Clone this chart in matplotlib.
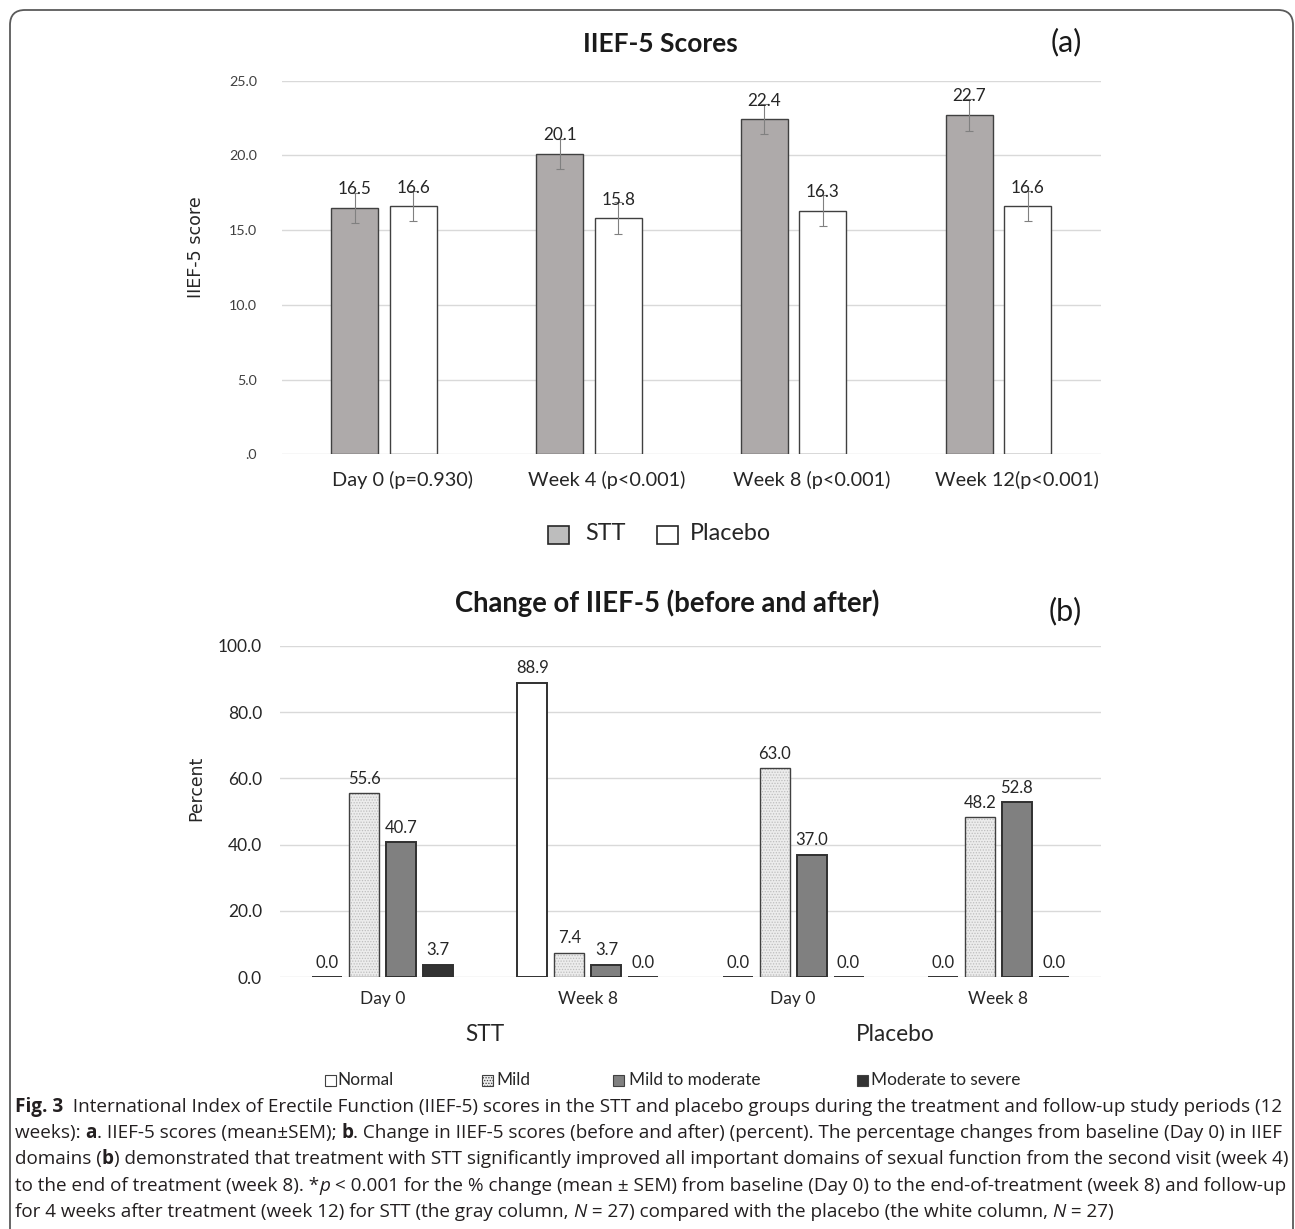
import matplotlib
matplotlib.use('Agg')
import matplotlib.pyplot as plt
import matplotlib.transforms as mtransforms
from matplotlib.patches import Rectangle, FancyBboxPatch
import numpy as np

W, H = 1295, 1229
CHART_FONT = ['Lato', 'DejaVu Sans']
CAP_FONT = ['Open Sans', 'DejaVu Sans']

# (a) IIEF-5 scores, mean and SEM
visits = ['Day 0 (p=0.930)', 'Week 4 (p<0.001)', 'Week 8 (p<0.001)', 'Week 12(p<0.001)']
stt_mean = [16.5, 20.1, 22.4, 22.7]
stt_sem = [1.0, 1.0, 1.0, 1.05]
plac_mean = [16.6, 15.8, 16.3, 16.6]
plac_sem = [1.0, 1.05, 1.05, 1.0]

# (b) severity distribution (percent)
b_ticks = ['Day 0', 'Week 8', 'Day 0', 'Week 8']
b_groups = ['STT', 'Placebo']
severity = ['Normal', 'Mild', 'Mild to moderate', 'Moderate to severe']
normal = [0.0, 88.9, 0.0, 0.0]
mild = [55.6, 7.4, 63.0, 48.2]
mild_mod = [40.7, 3.7, 37.0, 52.8]
mod_severe = [3.7, 0.0, 0.0, 0.0]

plt.rcParams['font.family'] = CHART_FONT
plt.rcParams['hatch.linewidth'] = 0.6

fig = plt.figure(figsize=(W / 100, H / 100), dpi=100)


def px(x, y):
    return x / W, 1 - y / H


def ax_at(left, top, right, bottom):
    return fig.add_axes([left / W, 1 - bottom / H, (right - left) / W, (bottom - top) / H])


def style_axis(ax):
    for s in ax.spines.values():
        s.set_visible(False)
    ax.yaxis.grid(True, color='#d9d9d9', lw=1)
    ax.set_axisbelow(True)
    ax.tick_params(length=0)


# ---------- panel (a)
ax1 = ax_at(282, 80.5, 1101, 454.5)
style_axis(ax1)
x = np.arange(len(visits))
ekw = dict(ecolor='#808080', elinewidth=0.8, capsize=3, capthick=0.8)
ax1.bar(x - 0.144, stt_mean, 0.23, color='#aeaaaa', edgecolor='#404040', lw=1,
        yerr=stt_sem, error_kw=ekw)
ax1.bar(x + 0.142, plac_mean, 0.23, color='white', edgecolor='#404040', lw=1,
        yerr=plac_sem, error_kw=ekw)
for xs, vals in [(x - 0.144, stt_mean), (x + 0.142, plac_mean)]:
    for xi, v in zip(xs, vals):
        ax1.annotate(f'{v:.1f}', (xi, v), xytext=(0, 9.7), textcoords='offset points',
                     ha='center', va='baseline', fontsize=12.3, color='#262626')
ax1.set_xlim(-0.5, len(visits) - 0.5)
ax1.set_ylim(0, 25)
yt = np.arange(0, 26, 5)
ax1.set_yticks(yt, ['.0' if v == 0 else f'{v:.1f}' for v in yt], fontsize=10.3, color='#404040')
ax1.set_xticks(x, visits, fontsize=14.3, color='#262626')
ax1.tick_params(axis='y', pad=18)
ax1.tick_params(axis='x', pad=12)
# category labels sit a little right of the bar pairs in the original
shift = mtransforms.ScaledTranslation(0.18, 0, fig.dpi_scale_trans)
for lab in ax1.get_xticklabels():
    lab.set_transform(lab.get_transform() + shift)
ax1.set_ylabel('IIEF-5 score', family='DejaVu Sans', fontsize=12.6, color='#262626')
ax1.yaxis.set_label_coords(-0.094, 0.555)

fig.text(*px(660, 44), 'IIEF-5 Scores', ha='center', va='center', fontsize=19,
         fontweight='bold', color='#1a1a1a')
fig.text(*px(1066, 42), '(a)', ha='center', va='center', fontsize=22, color='#1a1a1a')

# legend (a)
for sx, tx, face, lab in [(548, 585, '#bdbdbd', 'STT'), (657, 690, 'white', 'Placebo')]:
    fig.add_artist(Rectangle(px(sx, 544), 21 / W, 18 / H, transform=fig.transFigure,
                             facecolor=face, edgecolor='#262626', lw=1.2))
    fig.text(*px(tx, 533), lab, ha='left', va='center', fontsize=16.8, color='#262626')

# ---------- panel (b)
ax2 = ax_at(280, 646, 1101, 977)
style_axis(ax2)
xb = np.arange(len(b_ticks))
bw, step = 0.146, 0.18
series = [normal, mild, mild_mod, mod_severe]
faces = ['white', '#ececec', '#808080', '#333333']
for i, (vals, face) in enumerate(zip(series, faces)):
    xs = xb + (i - 1.5) * step
    if i == 1:
        ax2.bar(xs, vals, bw, color=face, edgecolor='#bdbdbd', lw=0, hatch='......')
        ax2.bar(xs, vals, bw, fill=False, edgecolor='#404040', lw=1)
    else:
        ax2.bar(xs, vals, bw, color=face, edgecolor='#303030', lw=1.4)
    for xi, v in zip(xs, vals):
        ax2.annotate(f'{v:.1f}', (xi, v), xytext=(0, 6.8), textcoords='offset points',
                     ha='center', va='baseline', fontsize=12, color='#262626')
ax2.set_xlim(-0.5, len(b_ticks) - 0.5)
ax2.set_ylim(0, 100)
yb = np.arange(0, 101, 20)
ax2.set_yticks(yb, [f'{v:.1f}' for v in yb], fontsize=12.5, color='#262626')
ax2.set_xticks(xb, b_ticks, fontsize=12.5, color='#262626')
ax2.tick_params(axis='y', pad=13)
ax2.tick_params(axis='x', pad=10)
ax2.set_ylabel('Percent', family='DejaVu Sans', fontsize=12.4, color='#262626')
ax2.yaxis.set_label_coords(-0.0914, 0.571)
trans = mtransforms.blended_transform_factory(ax2.transData, ax2.transAxes)
for g, lab in enumerate(b_groups):
    ax2.text(np.mean(xb[2 * g:2 * g + 2]), -0.175, lab, transform=trans, ha='center',
             va='center', fontsize=16.3, color='#262626')

fig.text(*px(667, 603), 'Change of IIEF-5 (before and after)', ha='center', va='center',
         fontsize=19.8, fontweight='bold', color='#1a1a1a')
fig.text(*px(1065, 611), '(b)', ha='center', va='center', fontsize=22, color='#1a1a1a')

# legend (b)
leg_x = [(325, 337), (482, 496), (613, 629), (857, 871)]
for (sx, tx), face, lab in zip(leg_x, faces, severity):
    hatch = '......' if lab == 'Mild' else None
    fig.add_artist(Rectangle(px(sx, 1086), 11 / W, 11 / H, transform=fig.transFigure,
                             facecolor=face, edgecolor='#404040', lw=0.8, hatch=hatch))
    fig.text(*px(tx, 1080), lab, ha='left', va='center', fontsize=12.4, color='#262626')

# ---------- caption
renderer = fig.canvas.get_renderer()
caption = [
    [('Fig. 3', dict(fontweight='bold')),
     ('  International Index of Erectile Function (IIEF-5) scores in the STT and placebo groups '
      'during the treatment and follow-up study periods (12', {})],
    [('weeks): ', {}), ('a', dict(fontweight='bold')), ('. IIEF-5 scores (mean\u00b1SEM); ', {}),
     ('b', dict(fontweight='bold')),
     ('. Change in IIEF-5 scores (before and after) (percent). The percentage changes from '
      'baseline (Day 0) in IIEF', {})],
    [('domains (', {}), ('b', dict(fontweight='bold')),
     (') demonstrated that treatment with STT significantly improved all important domains of '
      'sexual function from the second visit (week 4)', {})],
    [('to the end of treatment (week 8). *', {}), ('p', dict(fontstyle='italic')),
     (' < 0.001 for the % change (mean \u00b1 SEM) from baseline (Day 0) to the end-of-treatment '
      '(week 8) and follow-up', {})],
    [('for 4 weeks after treatment (week 12) for STT (the gray column, ', {}),
     ('N', dict(fontstyle='italic')), (' = 27) compared with the placebo (the white column, ', {}),
     ('N', dict(fontstyle='italic')), (' = 27)', {})],
]


def piece_width(s, size, kw):
    t = fig.text(0, 0, s + '|', fontsize=size, family=CAP_FONT, **kw)
    r = fig.text(0, 0, '|', fontsize=size, family=CAP_FONT, **kw)
    w = t.get_window_extent(renderer).width - r.get_window_extent(renderer).width
    t.remove()
    r.remove()
    return w


base = 10.0
w1 = sum(piece_width(s, base, kw) for s, kw in caption[0])
cap_size = base * 1267 / w1
for k, line in enumerate(caption):
    xc = 15
    yc = 1107 + k * 26.2
    for s, kw in line:
        fig.text(*px(xc, yc), s, fontsize=cap_size, family=CAP_FONT, ha='left',
                 va='center', color='#231f20', **kw)
        xc += piece_width(s, cap_size, kw)

# frame
fig.add_artist(FancyBboxPatch((0.10, -0.5), 12.83, 12.69, boxstyle='round,pad=0,rounding_size=0.15',
                              transform=fig.dpi_scale_trans, fill=False, edgecolor='#5a5a5a', lw=1.3))

fig.savefig('out.png', dpi=100)
